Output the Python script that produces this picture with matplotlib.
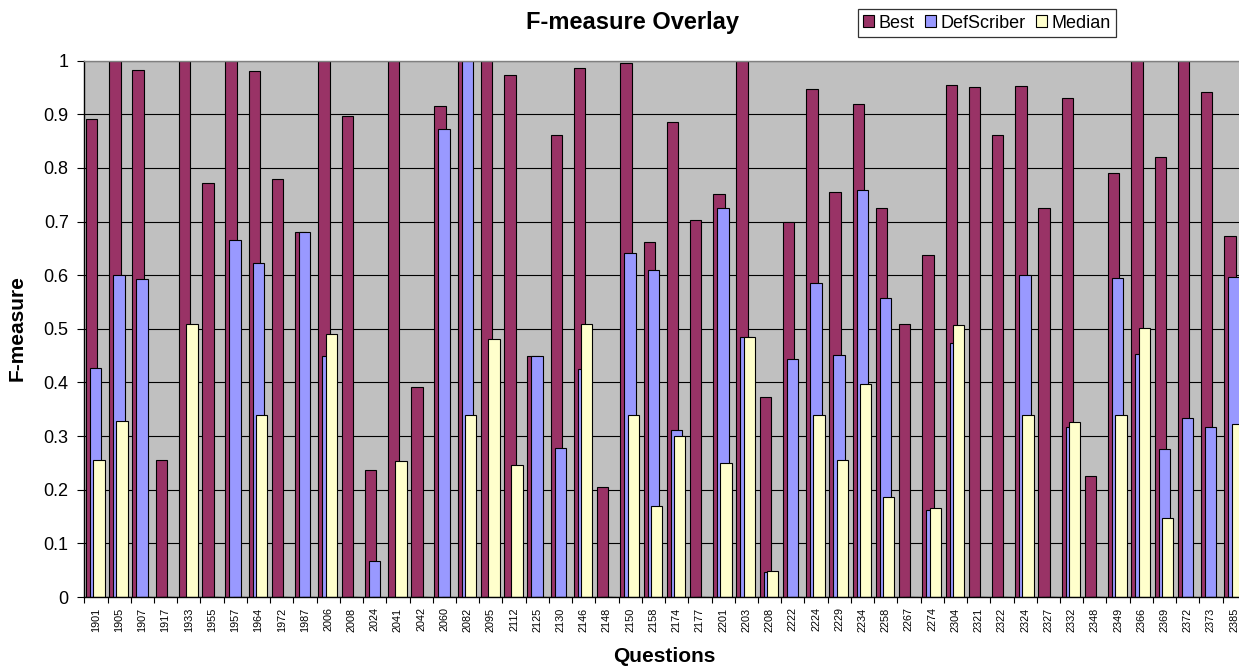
import numpy as np
import matplotlib
matplotlib.use("Agg")
import matplotlib.pyplot as plt
from matplotlib.patches import Patch
from matplotlib.ticker import FixedLocator, FuncFormatter

plt.rcParams['font.family'] = ['Liberation Sans', 'DejaVu Sans']

questions = ['1901', '1905', '1907', '1917', '1933', '1955', '1957', '1964', '1972', '1987',
             '2006', '2008', '2024', '2041', '2042', '2060', '2082', '2095', '2112', '2125',
             '2130', '2146', '2148', '2150', '2158', '2174', '2177', '2201', '2203', '2208',
             '2222', '2224', '2229', '2234', '2258', '2267', '2274', '2304', '2321', '2322',
             '2324', '2327', '2332', '2348', '2349', '2366', '2369', '2372', '2373', '2385']

best = [0.892, 1.0, 0.983, 0.256, 1.0, 0.772, 1.0, 0.981, 0.779, 0.681,
        1.0, 0.897, 0.237, 1.0, 0.391, 0.916, 1.0, 1.0, 0.973, 0.450,
        0.862, 0.986, 0.205, 0.996, 0.662, 0.886, 0.703, 0.751, 1.0, 0.372,
        0.699, 0.947, 0.755, 0.919, 0.725, 0.509, 0.638, 0.955, 0.951, 0.861,
        0.953, 0.725, 0.931, 0.226, 0.791, 1.0, 0.820, 1.0, 0.941, 0.673]

defscriber = [0.427, 0.600, 0.593, 0, 0, 0, 0.665, 0.623, 0, 0.681,
              0.449, 0, 0.067, 0, 0, 0.872, 1.0, 0, 0, 0.450,
              0.277, 0.426, 0, 0.642, 0.610, 0.312, 0, 0.726, 0.485, 0.047,
              0.443, 0.585, 0.452, 0.759, 0.558, 0, 0.163, 0.473, 0, 0,
              0.601, 0, 0.317, 0, 0.595, 0.454, 0.276, 0.334, 0.317, 0.597]

median = [0.256, 0.329, 0, 0, 0.509, 0, 0, 0.340, 0, 0,
          0.491, 0, 0, 0.254, 0, 0, 0.340, 0.482, 0.246, 0,
          0, 0.509, 0, 0.340, 0.170, 0.301, 0, 0.250, 0.485, 0.048,
          0, 0.340, 0.256, 0.398, 0.186, 0, 0.166, 0.507, 0, 0,
          0.340, 0, 0.327, 0, 0.340, 0.501, 0.147, 0, 0, 0.323]

series_names = ['Best', 'DefScriber', 'Median']
colors = ['#993366', '#9999FF', '#FFFFCC']

W, H = 1239, 666
fig = plt.figure(figsize=(W / 100, H / 100), dpi=100)
n = len(questions)
cat_w = 23.23
left_px, bottom_px, top_px = 84.3, 597.0, 60.7
ax = fig.add_axes([left_px / W, (H - bottom_px) / H, n * cat_w / W, (bottom_px - top_px) / H])
ax.set_facecolor('#C0C0C0')

x = np.arange(n)
bw = 0.49
offsets = [0.073, 0.245, 0.386]
for vals, off, col in zip([best, defscriber, median], offsets, colors):
    ax.bar(x + off, vals, width=bw, align='edge', color=col, edgecolor='black',
           linewidth=0.8, zorder=2)

ax.set_xlim(0, n)
ax.set_ylim(0, 1)

# y axis
ax.yaxis.set_major_locator(FixedLocator(np.linspace(0, 1, 11)))
ax.yaxis.set_major_formatter(FuncFormatter(lambda v, p: ('%g' % round(v, 1))))
ax.tick_params(axis='y', direction='out', length=4.7, width=0.8, pad=6.5, labelsize=13)
ax.grid(axis='y', color='black', linewidth=0.8, zorder=1)
ax.set_axisbelow(True)

# x axis: boundary ticks, centered labels
ax.xaxis.set_major_locator(FixedLocator(np.arange(n + 1)))
ax.xaxis.set_major_formatter(FuncFormatter(lambda v, p: ''))
ax.xaxis.set_minor_locator(FixedLocator(x + 0.5))
ax.set_xticklabels(questions, minor=True, rotation=90, fontsize=7.8)
ax.tick_params(axis='x', which='major', direction='out', length=4, width=0.8)
ax.tick_params(axis='x', which='minor', length=0, pad=7.5)

for s in ['left', 'bottom']:
    ax.spines[s].set_color('black')
    ax.spines[s].set_linewidth(1.0)
ax.spines['top'].set_color('#808080')
ax.spines['top'].set_linewidth(1.0)
ax.spines['right'].set_visible(False)

fig.text(632 / W, 1 - 23 / H, 'F-measure Overlay', ha='center', va='center',
         fontsize=17, fontweight='bold')
fig.text(664 / W, 1 - 657 / H, 'Questions', ha='center', va='center',
         fontsize=15, fontweight='bold')
fig.text(17.5 / W, 1 - 328 / H, 'F-measure', ha='center', va='center', rotation=90,
         fontsize=15, fontweight='bold')

handles = [Patch(facecolor=c, edgecolor='black', linewidth=0.8) for c in colors]
leg = fig.legend(handles, series_names, loc='center', bbox_to_anchor=(987 / W, 1 - 23 / H),
                 ncol=3, frameon=True, fancybox=False, fontsize=13,
                 handlelength=0.6, handleheight=0.6, handletextpad=0.25,
                 columnspacing=0.6, borderpad=0.3, borderaxespad=0)
leg.get_frame().set_edgecolor('black')
leg.get_frame().set_linewidth(0.9)

fig.savefig('out.png', dpi=100)
